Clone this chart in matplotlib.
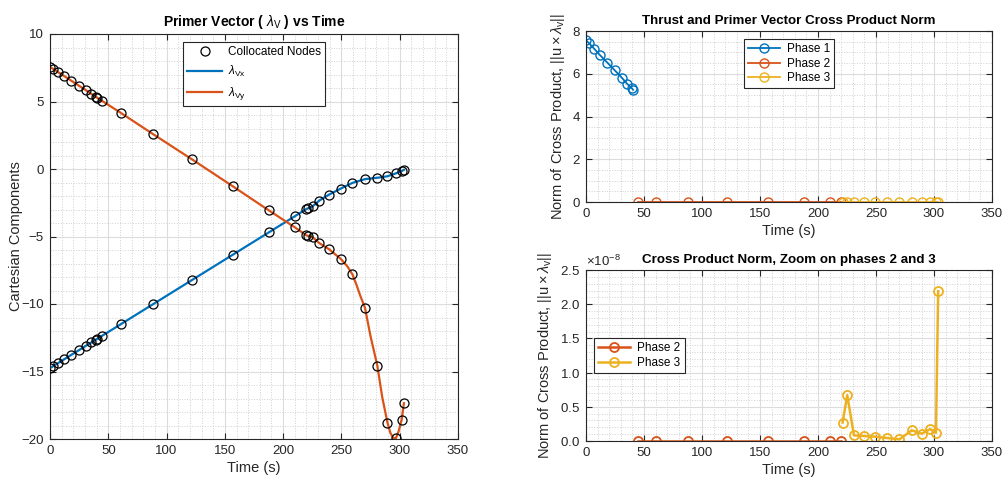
import numpy as np
import matplotlib
matplotlib.use("Agg")
import matplotlib.pyplot as plt
from matplotlib.ticker import MultipleLocator, ScalarFormatter

plt.rcParams["font.family"] = ["Liberation Sans", "DejaVu Sans"]
plt.rcParams["mathtext.fontset"] = "custom"
plt.rcParams["mathtext.rm"] = "Liberation Sans"
plt.rcParams["mathtext.it"] = "Liberation Sans:italic"
plt.rcParams["mathtext.bf"] = "Liberation Sans:bold"

# ---------- data ----------
# node times per phase (s)
t1 = [0.0, 2.8, 6.9, 12.1, 18.4, 24.8, 31.1, 35.6, 39.4, 40.6]
t2 = [44.6, 60.7, 88.3, 121.9, 156.8, 187.8, 210.2, 220.0]
t3 = [221.2, 225.2, 231.0, 239.3, 249.4, 259.4, 270.2, 280.8, 289.5, 296.8, 301.7, 303.6]

# primer vector components at the nodes
vx1 = [-14.75, -14.60, -14.38, -14.10, -13.76, -13.42, -13.08, -12.84, -12.64, -12.57]
vx2 = [-12.36, -11.50, -10.02, -8.22, -6.35, -4.69, -3.49, -2.96]
vx3 = [-2.92, -2.77, -2.34, -1.90, -1.45, -1.03, -0.75, -0.65, -0.54, -0.32, -0.15, -0.06]

vy1 = [7.56, 7.41, 7.18, 6.89, 6.53, 6.17, 5.82, 5.56, 5.34, 5.27]
vy2 = [5.05, 4.16, 2.59, 0.71, -1.28, -3.07, -4.33, -4.92]
vy3 = [-4.95, -5.05, -5.49, -5.94, -6.66, -7.80, -10.28, -14.57, -18.79, -19.95, -18.56, -17.35]

# smooth lambda_Vy curve in phase 3 (extra points)
curve_t = [221.2, 225.2, 231.0, 239.3, 249.4, 255.0, 259.4, 263.0, 266.0, 270.2, 275.0,
           280.8, 285.0, 289.5, 292.0, 294.5, 296.8, 299.0, 301.7, 303.6]
curve_vy = [-4.95, -5.05, -5.49, -5.94, -6.66, -7.20, -7.80, -8.60, -9.35, -10.28, -12.40,
            -14.57, -16.90, -18.79, -19.55, -19.95, -19.93, -19.45, -18.56, -17.35]

# norm of cross product ||u x lambda_v||
cross1 = [7.56, 7.42, 7.18, 6.87, 6.52, 6.16, 5.80, 5.52, 5.33, 5.25]
cross2 = [0, 0, 0, 0, 0, 0, 0, 0]
cross3_e8 = [0.27, 0.67, 0.083, 0.073, 0.063, 0.044, 0.024, 0.156, 0.107, 0.175, 0.12, 2.19]

c_blue = "#0072BD"
c_orange = "#D95319"
c_yellow = "#EDB120"
dark = "#262626"


def style_axes(ax, xminor, yminor):
    ax.set_xlim(0, 350)
    ax.xaxis.set_major_locator(MultipleLocator(50))
    ax.xaxis.set_minor_locator(MultipleLocator(xminor))
    ax.yaxis.set_minor_locator(MultipleLocator(yminor))
    ax.grid(True, which="major", color="#dcdcdc", linewidth=0.8)
    ax.grid(True, which="minor", color="#d0d0d0", linestyle=":", linewidth=0.7)
    ax.set_axisbelow(True)
    ax.tick_params(which="both", direction="in", top=True, right=True, colors=dark,
                   labelsize=9.5, labelcolor=dark)
    ax.tick_params(which="minor", length=0)
    ax.tick_params(which="major", length=4, pad=4.5)
    for s in ax.spines.values():
        s.set_color(dark)
        s.set_linewidth(0.8)
    ax.set_xlabel("Time (s)", fontsize=10.5, color=dark, labelpad=2.5)


def small_legend(ax, loc):
    leg = ax.legend(loc=loc, fontsize=8.5, handlelength=2.7, handletextpad=0.6, fancybox=False,
                    edgecolor=dark, framealpha=1, borderaxespad=0.7, labelspacing=0.2,
                    borderpad=0.35)
    leg.get_frame().set_linewidth(0.8)


fig = plt.figure(figsize=(10.03, 4.82), dpi=100)

# ---------- left: primer vector ----------
ax = fig.add_axes([50 / 1003, 1 - 439 / 482, 408 / 1003, 405 / 482])
t_nodes = t1 + t2 + t3
vx_nodes = vx1 + vx2 + vx3
vy_nodes = vy1 + vy2 + vy3
ax.plot(t_nodes, vx_nodes, "o", mfc="none", mec="black", ms=6.5, mew=0.9,
        label="Collocated Nodes", zorder=3)
ax.plot(t_nodes, vy_nodes, "o", mfc="none", mec="black", ms=6.5, mew=0.9, zorder=3)
ax.plot(t_nodes, vx_nodes, color=c_blue, lw=1.6, label=r"$\lambda_{\mathrm{Vx}}$", zorder=2)
ax.plot(t1 + t2 + curve_t, vy1 + vy2 + curve_vy, color=c_orange, lw=1.6,
        label=r"$\lambda_{\mathrm{Vy}}$", zorder=2)
ax.set_ylim(-20, 10)
ax.yaxis.set_major_locator(MultipleLocator(5))
style_axes(ax, 10, 1)
ax.set_ylabel("Cartesian Components", fontsize=10.5, color=dark, labelpad=-1)
ax.set_title(r"Primer Vector ( $\lambda_\mathrm{V}$ ) vs Time", fontsize=10, fontweight="bold", pad=6)
leg = ax.legend(loc="upper center", fontsize=8.5, handlelength=3.0, handletextpad=0.5,
                fancybox=False, edgecolor=dark, framealpha=1, borderaxespad=0.7,
                labelspacing=0.5, borderpad=0.35)
leg.get_frame().set_linewidth(0.8)

ylab = r"Norm of Cross Product, $||\mathrm{u}\times\lambda_\mathrm{v}||$"

# ---------- top right: cross product norm ----------
ax2 = fig.add_axes([586 / 1003, 1 - 202 / 482, 406 / 1003, 171 / 482])
ax2.plot(t1, cross1, "-o", color=c_blue, mfc="none", ms=6.5, lw=1.3, label="Phase 1")
ax2.plot(t2, cross2, "-o", color=c_orange, mfc="none", ms=6.5, lw=1.3, label="Phase 2")
ax2.plot(t3, np.array(cross3_e8) * 1e-8, "-o", color=c_yellow, mfc="none", ms=6.5, lw=1.3,
         label="Phase 3")
ax2.set_ylim(0, 8)
ax2.yaxis.set_major_locator(MultipleLocator(2))
style_axes(ax2, 10, 0.5)
ax2.set_ylabel(ylab, fontsize=10.5, color=dark, labelpad=4)
ax2.set_title("Thrust and Primer Vector Cross Product Norm", fontsize=9.6, fontweight="bold", pad=5)
small_legend(ax2, "upper center")

# ---------- bottom right: zoom on phases 2 and 3 ----------
ax3 = fig.add_axes([586 / 1003, 1 - 441 / 482, 406 / 1003, 171 / 482])
ax3.plot(t2, np.array(cross2) * 1e-8, "-o", color=c_orange, mfc="none", ms=6.5, lw=1.8,
         mew=1.3, label="Phase 2")
ax3.plot(t3, np.array(cross3_e8) * 1e-8, "-o", color=c_yellow, mfc="none", ms=6.5, lw=1.8,
         mew=1.3, label="Phase 3")
ax3.set_ylim(0, 2.5e-8)
ax3.yaxis.set_major_locator(MultipleLocator(0.5e-8))
fmt = ScalarFormatter(useMathText=True)
fmt.set_powerlimits((0, 0))
ax3.yaxis.set_major_formatter(fmt)
style_axes(ax3, 10, 0.1e-8)
ax3.yaxis.get_offset_text().set_fontsize(9.5)
ax3.yaxis.get_offset_text().set_color(dark)
ax3.set_ylabel(ylab, fontsize=10.5, color=dark, labelpad=4)
ax3.set_title("Cross Product Norm, Zoom on phases 2 and 3", fontsize=9.6, fontweight="bold", pad=5)
small_legend(ax3, "center left")

fig.savefig("out.png", dpi=100)
